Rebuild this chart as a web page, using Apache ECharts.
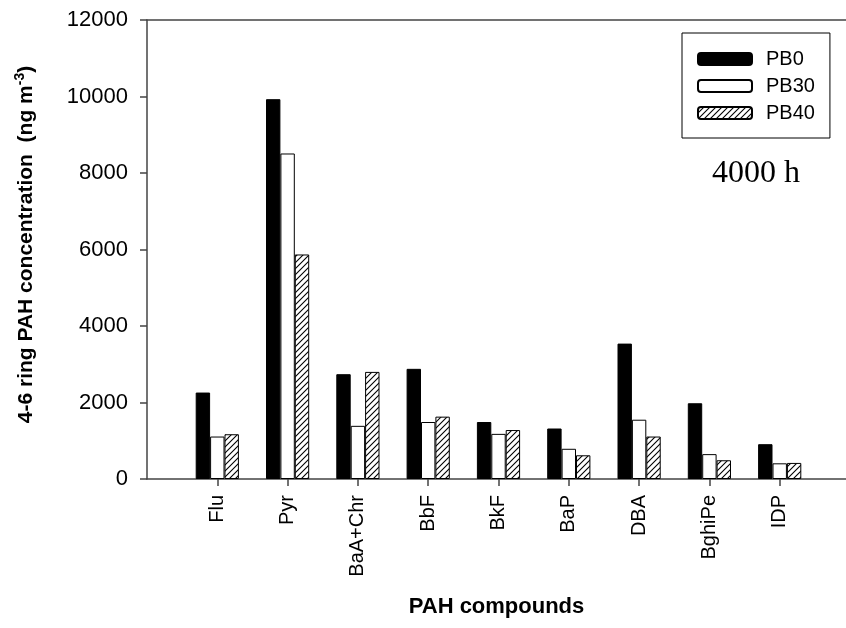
<!DOCTYPE html>
<html>
<head>
<meta charset="utf-8">
<script src="https://cdn.jsdelivr.net/npm/echarts@6/dist/echarts.min.js"></script>
<style>
  html, body { margin: 0; padding: 0; background: #fff; }
  #chart { width: 846px; height: 628px; }
</style>
</head>
<body>
<div id="chart"></div>
<script>
// PAH compound categories (x axis)
const categories = ['Flu', 'Pyr', 'BaA+Chr', 'BbF', 'BkF', 'BaP', 'DBA', 'BghiPe', 'IDP'];

// 4-6 ring PAH concentrations, ng m-3, after 4000 h
const pb0  = [2260, 9930, 2740, 2880, 1490, 1320, 3540, 1980, 910];
const pb30 = [1110, 8510, 1390, 1490, 1180,  790, 1550,  650, 410];
const pb40 = [1170, 5870, 2800, 1630, 1280,  620, 1110,  490, 420];

// y axis ticks
const yMin = 0, yMax = 12000, yStep = 2000;

// Compounds sit at positions 1..9 of a numeric x axis that starts at 0;
// the frame runs a little past the last compound and off the right edge.
const xMin = 0, xMax = 9.943, xStep = 1;
const toPoints = arr => arr.map((v, i) => [i + 1, v]);

// Diagonal hatch used for PB40
function hatchPattern() {
  const s = 6;
  const c = document.createElement('canvas');
  c.width = s; c.height = s;
  const g = c.getContext('2d');
  g.fillStyle = '#fff';
  g.fillRect(0, 0, s, s);
  g.strokeStyle = '#000';
  g.lineWidth = 1.1;
  g.beginPath();
  g.moveTo(0, s); g.lineTo(s, 0);
  g.moveTo(-1, 1); g.lineTo(1, -1);
  g.moveTo(s - 1, s + 1); g.lineTo(s + 1, s - 1);
  g.stroke();
  return c;
}

const chart = echarts.init(document.getElementById('chart'), null, { renderer: 'canvas' });
const axisColor = '#444';
const font = 'Arial, "Liberation Sans", sans-serif';

const barBase = {
  type: 'bar',
  barWidth: 14.4,
  barGap: '0%',
  animation: false
};

chart.setOption({
  backgroundColor: '#fff',
  animation: false,
  grid: { left: 147, top: 20, width: 700, bottom: 149 },
  legend: {
    orient: 'vertical',
    left: 682, top: 33,
    padding: [16, 15, 15, 15],
    itemWidth: 54, itemHeight: 12, itemGap: 7,
    borderColor: '#000', borderWidth: 1,
    textStyle: { fontFamily: font, fontSize: 20, color: '#000', padding: [0, 0, 0, 9], width: 58 },
    data: ['PB0', 'PB30', 'PB40']
  },
  xAxis: [{
    type: 'value',
    min: xMin, max: xMax, interval: xStep,
    name: 'PAH compounds',
    nameLocation: 'middle',
    nameGap: 117,
    nameTextStyle: { fontFamily: font, fontSize: 22, fontWeight: 'bold', color: '#000' },
    axisLine: { show: true, lineStyle: { color: axisColor, width: 1.5 } },
    axisTick: { show: true, length: 7, lineStyle: { color: axisColor, width: 1.5 } },
    axisLabel: {
      rotate: 90, margin: 16, fontFamily: font, fontSize: 20, color: '#000',
      showMinLabel: false, showMaxLabel: false,
      formatter: v => (Number.isInteger(v) && categories[v - 1]) || ''
    },
    splitLine: { show: false }
  }, {
    // top edge of the frame
    type: 'value',
    position: 'top',
    min: xMin, max: xMax, interval: xStep,
    axisLine: { show: true, onZero: false, lineStyle: { color: axisColor, width: 1.5 } },
    axisTick: { show: false },
    axisLabel: { show: false },
    splitLine: { show: false }
  }],
  yAxis: {
    type: 'value',
    min: yMin, max: yMax, interval: yStep,
    name: '{m|4-6 ring PAH concentration  (ng m}{s|-3}{m|)}',
    nameLocation: 'middle',
    nameGap: 108,
    nameRotate: 90,
    nameTextStyle: {
      padding: [0, 0, 0, 10],
      rich: {
        m: { fontFamily: font, fontSize: 21, fontWeight: 'bold', color: '#000', lineHeight: 26 },
        s: { fontFamily: font, fontSize: 14, fontWeight: 'bold', color: '#000', verticalAlign: 'top', lineHeight: 26 }
      }
    },
    axisLine: { show: true, lineStyle: { color: axisColor, width: 1.5 } },
    axisTick: { show: true, length: 7, lineStyle: { color: axisColor, width: 1.5 } },
    axisLabel: { margin: 19, fontFamily: font, fontSize: 22, color: '#000', formatter: v => String(v) },
    splitLine: { show: false }
  },
  graphic: [{
    type: 'text',
    x: 756, y: 174,
    style: {
      text: '4000 h',
      font: '32px "Liberation Serif", "Times New Roman", serif',
      fill: '#000',
      textAlign: 'center',
      textVerticalAlign: 'middle'
    }
  }],
  series: [
    Object.assign({}, barBase, {
      name: 'PB0', data: toPoints(pb0),
      itemStyle: { color: '#000', borderColor: '#000', borderWidth: 1 }
    }),
    Object.assign({}, barBase, {
      name: 'PB30', data: toPoints(pb30),
      itemStyle: { color: '#fff', borderColor: '#000', borderWidth: 1 }
    }),
    Object.assign({}, barBase, {
      name: 'PB40', data: toPoints(pb40),
      itemStyle: { color: { image: hatchPattern(), repeat: 'repeat' }, borderColor: '#000', borderWidth: 1 }
    })
  ]
});
</script>
</body>
</html>
